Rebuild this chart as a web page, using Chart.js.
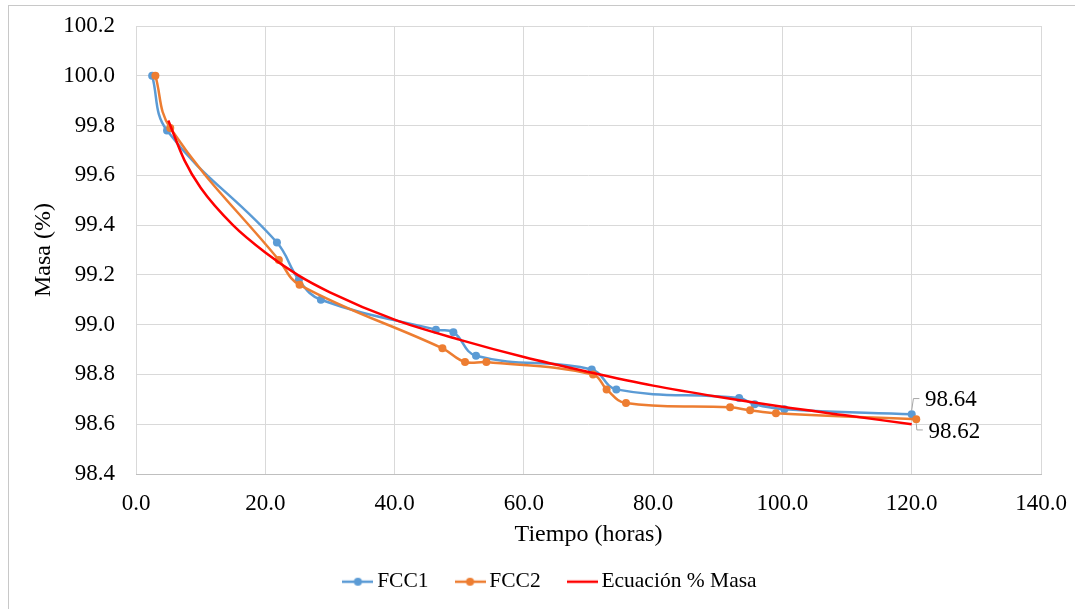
<!DOCTYPE html>
<html><head><meta charset="utf-8">
<script src="https://cdn.jsdelivr.net/npm/chart.js@4.4.1/dist/chart.umd.min.js"></script>
<style>html,body{margin:0;padding:0;background:#fff}#wrap{position:relative;width:1075px;height:609px}</style>
</head><body><div id="wrap"><canvas id="c" width="1075" height="609"></canvas></div>
<script>
// ---- data ----
const xTickLabels = ['0.0','20.0','40.0','60.0','80.0','100.0','120.0','140.0'];
const yTickLabels = ['98.4','98.6','98.8','99.0','99.2','99.4','99.6','99.8','100.0','100.2'];

const fcc1Tiempo = [2.5, 4.8, 21.8, 25.2, 28.6, 46.4, 49.1, 52.6, 70.5, 74.3, 93.3, 95.7, 100.3, 120.0];
const fcc1Masa   = [100.0, 99.78, 99.33, 99.18, 99.10, 98.98, 98.97, 98.875, 98.82, 98.74, 98.705, 98.68, 98.66, 98.64];

const fcc2Tiempo = [3.0, 5.3, 22.1, 25.3, 47.4, 50.9, 54.2, 70.7, 72.8, 75.8, 91.9, 95.0, 99.0, 120.7];
const fcc2Masa   = [100.0, 99.79, 99.26, 99.16, 98.905, 98.85, 98.85, 98.80, 98.74, 98.685, 98.668, 98.656, 98.644, 98.62];

const ecuTiempo = [5.0, 7.5, 10, 15, 20, 25, 30, 40, 50, 60, 70, 80, 90, 100, 110, 120.0];
const ecuMasa   = [99.82, 99.66, 99.55, 99.40, 99.29, 99.20, 99.13, 99.02, 98.94, 98.87, 98.81, 98.755, 98.71, 98.67, 98.635, 98.60];

const seriesNames = ['FCC1', 'FCC2', 'Ecuación % Masa'];
// ------------------------------------------------

const BLUE = '#5B9BD5', ORANGE = '#ED7D31', RED = '#FF0000';
const FONT = '"Liberation Serif", "Times New Roman", serif';

function pts(xs, ys){ return xs.map((x,i)=>({x:x, y:ys[i]})); }

function legendIcon(color, dot){
  const c = document.createElement('canvas');
  c.width = 31; c.height = 10;
  const g = c.getContext('2d');
  g.strokeStyle = color; g.lineWidth = 2.5;
  g.beginPath(); g.moveTo(0,5); g.lineTo(31,5); g.stroke();
  if (dot){ g.fillStyle = color; g.beginPath(); g.arc(15.5,5,4,0,Math.PI*2); g.fill(); }
  return c;
}
const icons = [legendIcon(BLUE,true), legendIcon(ORANGE,true), legendIcon(RED,false)];

function noScalePadding(s){
  s.paddingTop = 0; s.paddingBottom = 0; s.paddingLeft = 0; s.paddingRight = 0;
}

const borderPlugin = {
  id:'outerBorder',
  beforeUpdate(chart){
    const lg = chart.legend;
    if (lg && !lg.__patched){
      lg.__patched = true;
      const origFit = lg.fit;
      lg.fit = function(){ origFit.call(this); this.height = 71; };
    }
  },
  beforeDraw(chart){
    const ctx = chart.ctx;
    ctx.save();
    ctx.fillStyle = '#fff'; ctx.fillRect(0,0,chart.width,chart.height);
    ctx.strokeStyle = '#c8c8c8'; ctx.lineWidth = 1;
    ctx.strokeRect(8.5, 5.5, chart.width + 10, chart.height + 10);
    ctx.restore();
  }
};

const endLabels = {
  id:'endLabels',
  afterDatasetsDraw(chart){
    const ctx = chart.ctx;
    ctx.save();
    ctx.font = '23px ' + FONT;
    ctx.fillStyle = '#000';
    ctx.strokeStyle = '#a6a6a6'; ctx.lineWidth = 1;
    ctx.textBaseline = 'middle'; ctx.textAlign = 'left';
    const m0 = chart.getDatasetMeta(0), m1 = chart.getDatasetMeta(1);
    const p0 = m0.data[m0.data.length-1], p1 = m1.data[m1.data.length-1];
    ctx.beginPath();
    ctx.moveTo(p0.x, p0.y-4); ctx.lineTo(p0.x+1.7, p0.y-15.7); ctx.lineTo(p0.x+7.7, p0.y-15.7);
    ctx.stroke();
    ctx.fillText(fcc1Masa[fcc1Masa.length-1].toFixed(2), p0.x+13.4, p0.y-14.5);
    ctx.beginPath();
    ctx.moveTo(p1.x, p1.y+4); ctx.lineTo(p1.x+0.6, p1.y+10.7); ctx.lineTo(p1.x+6.6, p1.y+10.7);
    ctx.stroke();
    ctx.fillText(fcc2Masa[fcc2Masa.length-1].toFixed(2), p1.x+12.3, p1.y+13.2);
    ctx.restore();
  }
};

new Chart(document.getElementById('c'), {
  type:'scatter',
  data:{
    datasets:[
      {label:seriesNames[0], data:pts(fcc1Tiempo,fcc1Masa), showLine:true, borderColor:BLUE, backgroundColor:BLUE,
       borderWidth:2.5, pointRadius:4, pointHoverRadius:4, pointBorderWidth:0, tension:0.4, order:3, pointStyle:'circle'},
      {label:seriesNames[1], data:pts(fcc2Tiempo,fcc2Masa), showLine:true, borderColor:ORANGE, backgroundColor:ORANGE,
       borderWidth:2.5, pointRadius:4, pointHoverRadius:4, pointBorderWidth:0, tension:0.4, order:2, pointStyle:'circle'},
      {label:seriesNames[2], data:pts(ecuTiempo,ecuMasa), showLine:true, borderColor:RED, backgroundColor:RED,
       borderWidth:2.5, pointRadius:0, pointHoverRadius:0, cubicInterpolationMode:'monotone', order:1}
    ]
  },
  options:{
    responsive:false, animation:false, devicePixelRatio:1,
    layout:{autoPadding:false, padding:{top:26, right:34, left:65, bottom:0}},
    scales:{
      x:{
        type:'linear', min:0, max:140,
        afterFit(s){ s.height = 64; noScalePadding(s); },
        ticks:{stepSize:20, padding:16, color:'#000', font:{family:FONT, size:23},
               callback:(v)=> xTickLabels[Math.round(v/20)] ?? ''},
        grid:{color:'#d9d9d9', lineWidth:1, drawTicks:false},
        border:{display:true, color:'#bfbfbf', width:1},
        title:{display:true, text:'Tiempo (horas)', color:'#000', font:{family:FONT, size:24}, padding:{top:0,bottom:-11.4}}
      },
      y:{
        type:'linear', min:98.4, max:100.2,
        afterFit(s){ s.width = 71; noScalePadding(s); },
        ticks:{stepSize:0.2, padding:21, color:'#000', font:{family:FONT, size:23},
               callback:(v)=> yTickLabels[Math.round((v-98.4)/0.2)] ?? ''},
        grid:{color:'#d9d9d9', lineWidth:1, drawTicks:false},
        border:{display:false},
        title:{display:true, text:'Masa (%)', color:'#000', font:{family:FONT, size:24}, padding:{top:-35.4,bottom:0}}
      }
    },
    plugins:{
      tooltip:{enabled:false},
      legend:{
        position:'bottom',
        labels:{
          usePointStyle:true, pointStyleWidth:17, padding:33, color:'#000',
          font:{family:FONT, size:21.5},
          sort:(a,b)=>a.datasetIndex-b.datasetIndex,
          generateLabels(chart){
            return chart.data.datasets.map((d,i)=>({
              text:d.label, datasetIndex:i, pointStyle:icons[i], fillStyle:d.borderColor,
              strokeStyle:d.borderColor, lineWidth:0, hidden:false, fontColor:'#000'
            }));
          }
        }
      }
    }
  },
  plugins:[borderPlugin, endLabels]
});
</script>
</body></html>
